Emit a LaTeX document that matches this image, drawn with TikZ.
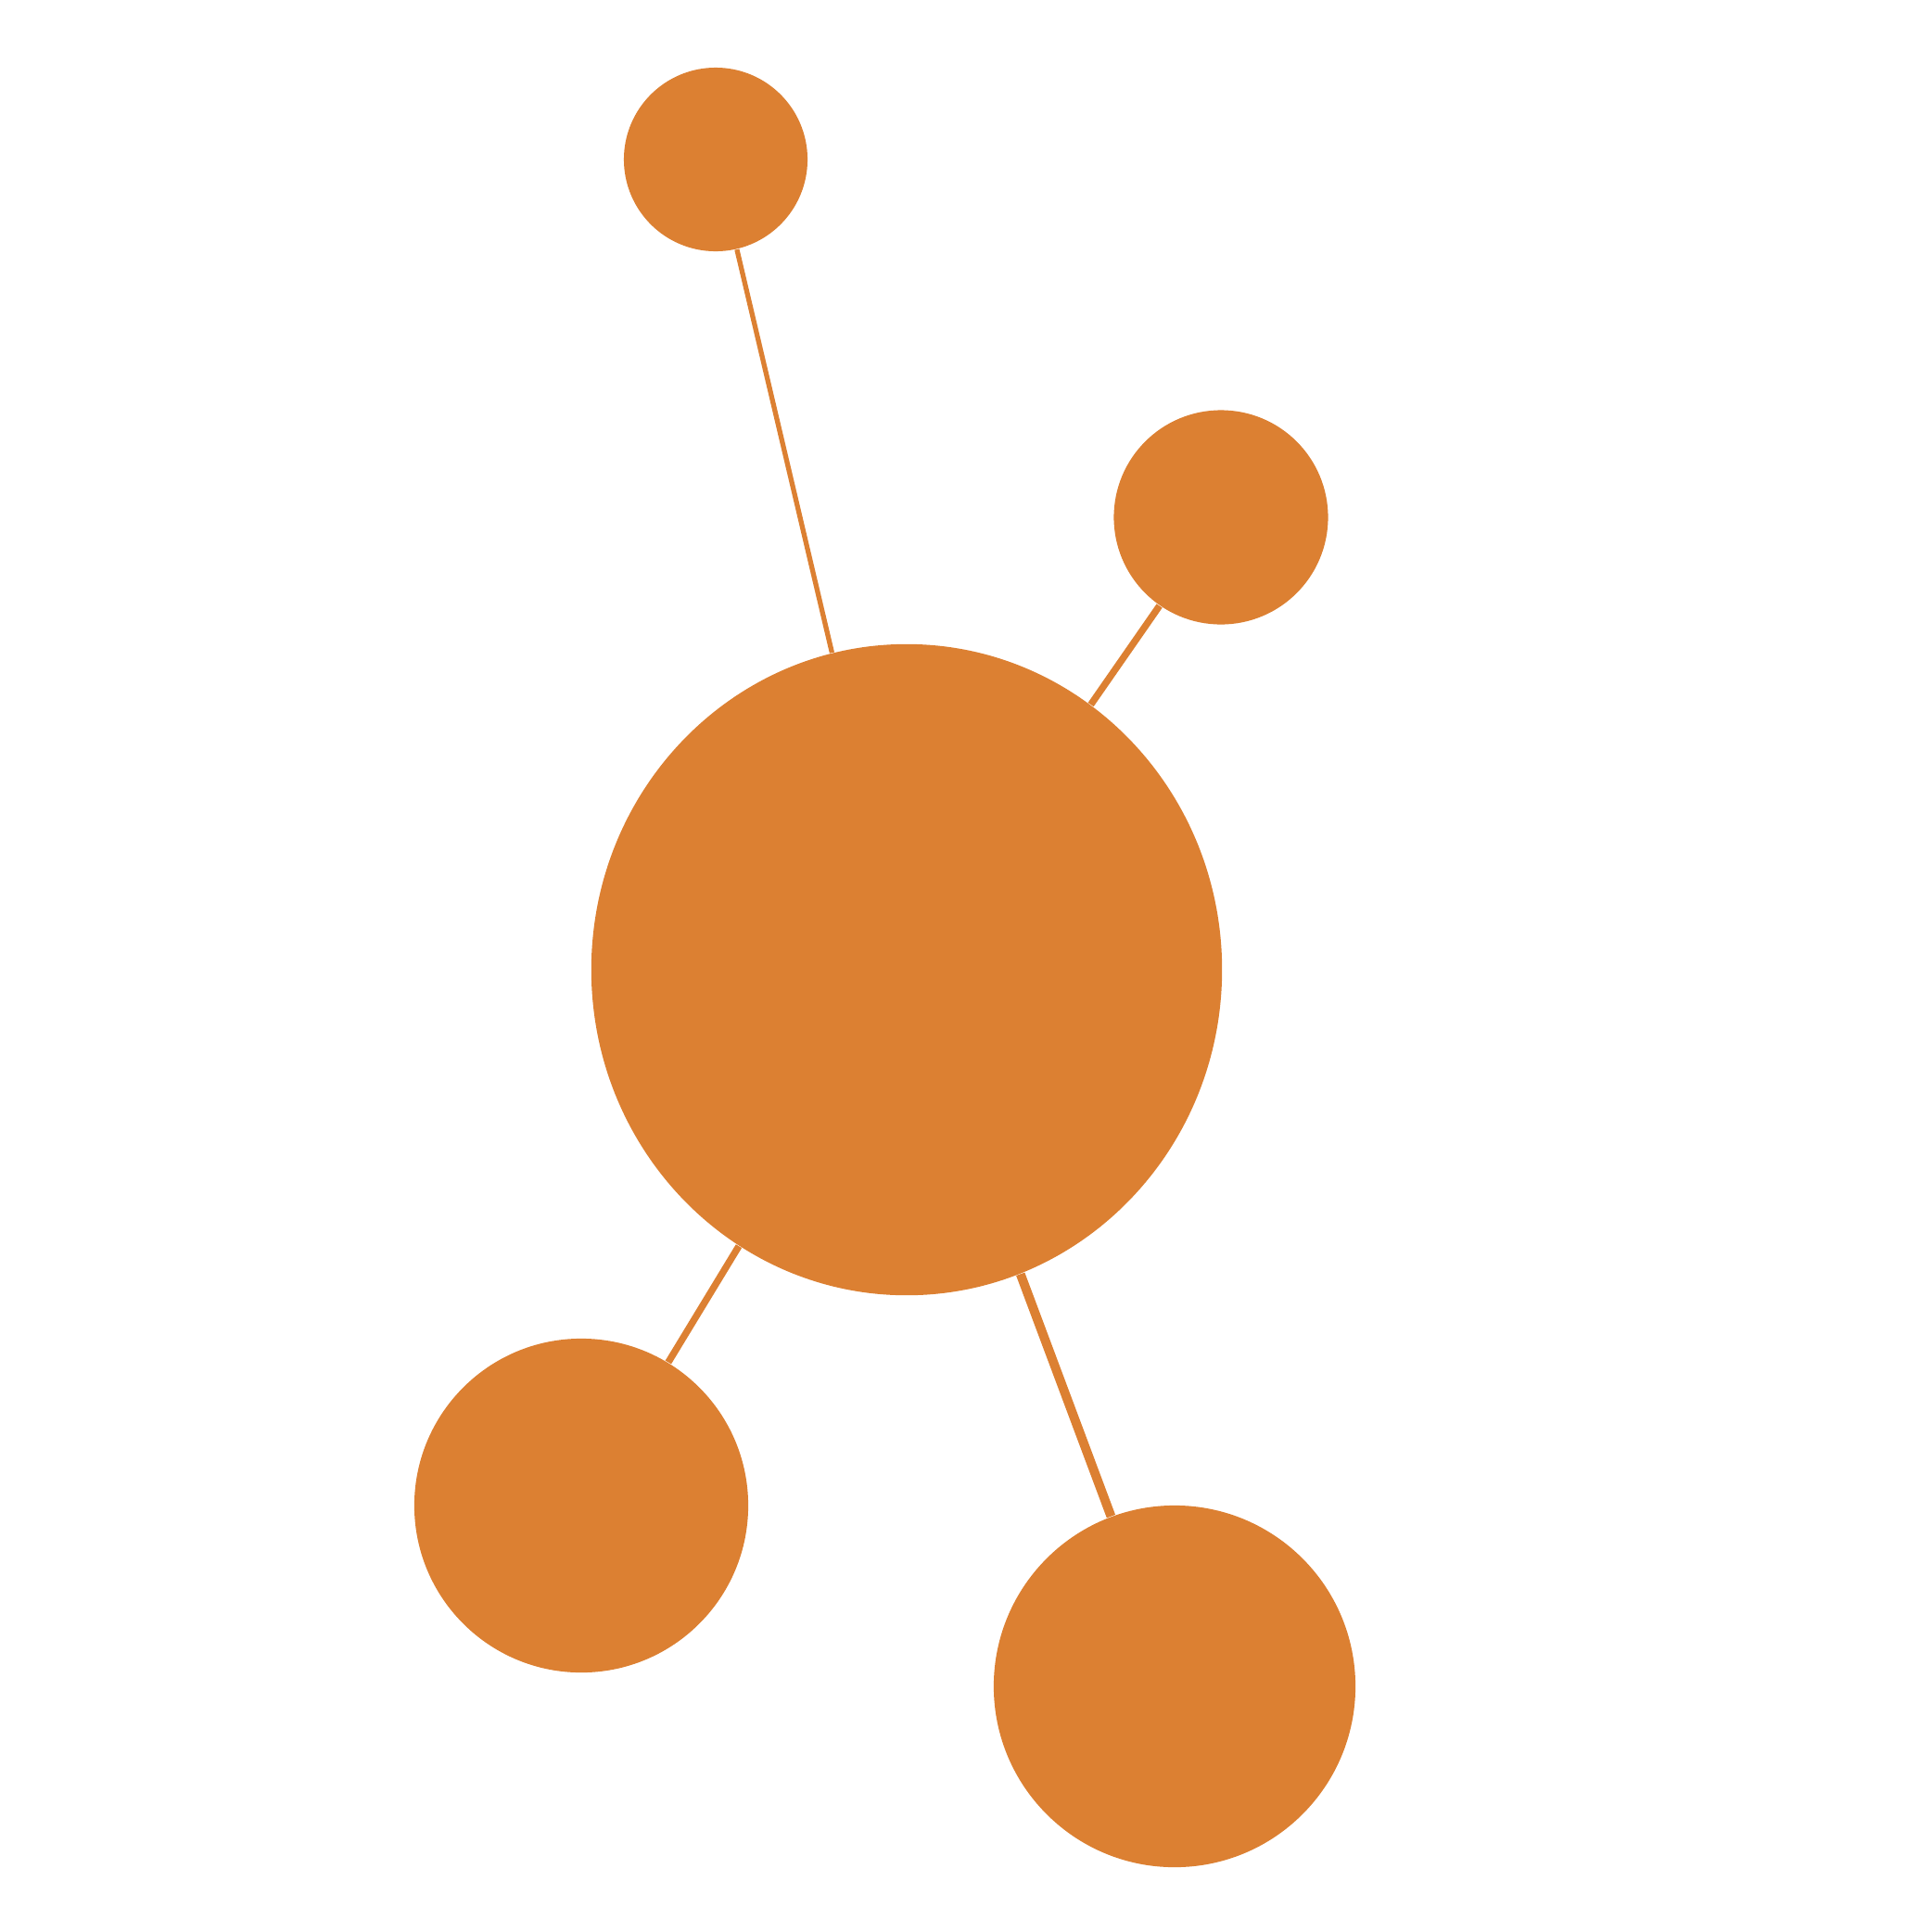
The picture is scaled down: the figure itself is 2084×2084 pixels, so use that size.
\documentclass[tikz,border=0pt]{standalone}
\usetikzlibrary{shapes.geometric}
\definecolor{orng}{RGB}{220,128,50}
\begin{document}
\begin{tikzpicture}[x=0.01cm,y=-0.01cm,
  blob/.style={circle,fill=orng,draw=none,inner sep=0pt},
  link/.style={draw=orng}]
\useasboundingbox (0,0) rectangle (2084,2084);
\node[ellipse,fill=orng,draw=none,inner sep=0pt,minimum width=6.80cm,minimum height=7.02cm] (big) at (978,1046) {};
\node[blob,minimum size=1.98cm] (top) at (772,172) {};
\node[blob,minimum size=2.31cm] (ur) at (1317,558) {};
\node[blob,minimum size=3.60cm] (bl) at (627,1624) {};
\node[blob,minimum size=3.90cm] (br) at (1267,1819) {};
\draw[link,line width=1.5pt] (big) -- (top);
\draw[link,line width=2.1pt] (big) -- (ur);
\draw[link,line width=2.1pt] (big) -- (bl);
\draw[link,line width=2.8pt] (big) -- (br);
\end{tikzpicture}
\end{document}
